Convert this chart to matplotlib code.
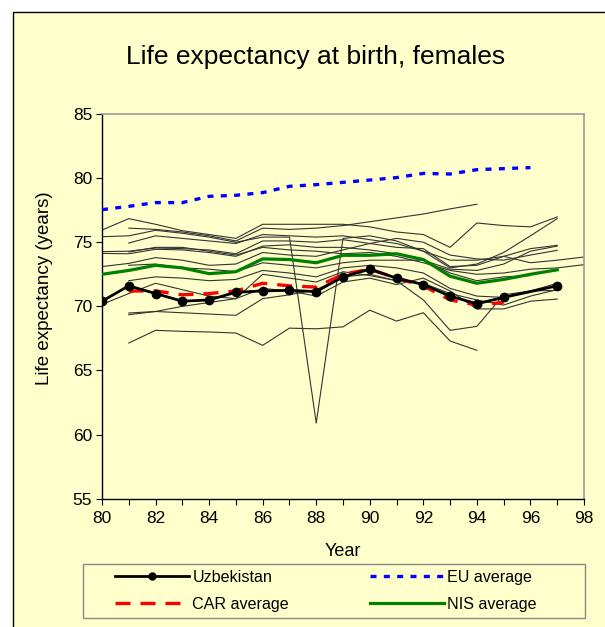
import numpy as np
import matplotlib
matplotlib.use('Agg')
import matplotlib.pyplot as plt
from matplotlib.patches import Rectangle
from matplotlib.lines import Line2D

nan = np.nan
years = list(range(80, 99))

uzbekistan = [70.4, 71.6, 71.0, 70.4, 70.5, 71.1, 71.2, 71.25, 71.15, 72.3, 72.9, 72.2, 71.7, 70.8, 70.2, 70.7, nan, 71.6, nan]
car_avg = [nan, 71.2, 71.2, 70.9, 71.0, 71.2, 71.8, 71.6, 71.5, 72.5, 72.9, 72.2, 71.6, 70.5, 70.1, 70.3, nan, nan, nan]
eu_avg = [77.54, 77.8, 78.09, 78.09, 78.58, 78.66, 78.87, 79.36, 79.49, 79.67, 79.85, 80.04, 80.37, 80.32, 80.66, 80.74, 80.82, nan, nan]
nis_avg = [72.5, 72.8, 73.2, 73.0, 72.55, 72.7, 73.7, 73.65, 73.4, 73.98, 73.98, 74.1, 73.65, 72.35, 71.8, 72.1, 72.5, 72.85, nan]

# other NIS countries (thin lines)
countries = [
    [75.95, 76.84, 76.4, 75.9, 75.6, 75.3, 76.4, 76.4, 76.4, 76.4, 76.2, 75.8, 75.6, 74.6, 76.5, 76.3, 76.2, 76.97, nan],
    [nan, 76.1, 76.0, 75.8, 75.5, 75.1, 76.1, 76.0, 76.1, 76.3, 76.6, 76.9, 77.2, 77.6, 77.96, nan, nan, nan, nan],
    [75.43, 75.5, 75.93, 75.7, 75.4, 75.0, 75.4, 75.4, 60.9, 75.3, 75.5, 75.1, 74.3, 73.0, 73.3, 74.2, 75.5, 76.84, nan],
    [74.27, 74.3, 74.55, 74.5, 74.4, 74.1, 75.1, 75.1, 75.0, 75.2, 74.9, 74.6, 74.5, 73.1, 73.2, 73.9, 74.5, 74.76, nan],
    [74.13, 74.1, 74.45, 74.4, 74.2, 73.9, 74.7, 74.8, 74.6, 74.6, 74.4, 74.1, 73.6, 72.9, 72.8, 73.3, 74.3, 74.7, nan],
    [73.1, 73.35, 73.8, 73.6, 73.2, 73.3, 74.2, 74.0, 73.9, 74.4, 74.9, 75.3, 75.0, 74.0, 73.7, 73.6, 74.0, 74.37, nan],
    [nan, 74.94, 75.5, 75.3, 75.1, 74.9, 75.6, 75.5, 75.4, 75.5, 75.2, 74.9, 74.3, 73.6, 73.6, 73.9, 73.4, 73.6, 73.85],
    [nan, 74.24, 74.6, 74.6, 74.3, 74.0, 74.6, 74.4, 74.3, 74.1, 74.2, 73.9, 73.4, 72.8, 72.5, 72.6, 72.9, 73.0, 73.25],
    [nan, 72.0, 72.3, 72.2, 72.0, 72.1, 72.8, 72.6, 72.3, 73.0, 73.2, 73.0, 72.6, 71.4, 70.8, 70.7, 71.2, 71.8, nan],
    [70.15, 71.0, 71.8, 71.3, 70.8, 70.6, 72.5, 72.2, 71.9, 72.7, 72.4, 72.0, 71.8, 71.0, 70.5, 70.1, 70.8, 71.3, nan],
    [nan, 69.48, 69.6, 70.0, 70.3, 70.6, 71.4, 71.2, 70.8, 71.9, 72.2, 71.7, 72.2, 71.2, 69.8, 69.8, 70.4, 70.57, nan],
    [nan, 69.35, 69.6, 69.5, 69.4, 69.3, 70.6, 70.9, 71.3, 72.3, 72.5, 72.0, 70.5, 68.13, 68.44, 70.9, 71.2, 71.25, nan],
    [nan, 67.14, 68.13, 68.05, 68.0, 67.92, 66.96, 68.3, 68.25, 68.4, 69.7, 68.85, 69.5, 67.3, 66.57, nan, nan, nan, nan],
    [nan, 73.2, 73.3, 73.0, 72.9, 72.7, 73.4, 73.2, 73.0, 73.4, 73.6, 73.6, 73.6, 72.6, 72.0, 72.3, 72.4, nan, nan],
]

bg = '#FFFFCC'
W, H = 605, 627
plt.rcParams['font.family'] = ['Liberation Sans', 'DejaVu Sans']
fig = plt.figure(figsize=(W / 100, H / 100), dpi=100, facecolor='white')

# yellow chart area with black border
fig.patches.append(Rectangle((13 / W, -0.01), 1.0, 1 - 12 / H + 0.01, transform=fig.transFigure,
                             facecolor=bg, edgecolor='black', lw=1, zorder=-2))

ax = fig.add_axes([102 / W, 1 - 498.7 / H, (584 - 102) / W, (498.7 - 114) / H])
ax.set_facecolor(bg)


def xy(vals):
    x = np.array(years, dtype=float)
    y = np.array(vals, dtype=float)
    m = ~np.isnan(y)
    return x[m], y[m]


for c in countries:
    ax.plot(*xy(c), color='#333333', lw=0.8, zorder=2)

ax.plot(*xy(nis_avg), color='#008000', lw=2.3, zorder=3)
ax.plot(*xy(eu_avg), color='#0000FF', lw=2.4, dashes=(1.8, 2.2), zorder=3)
ax.plot(*xy(car_avg), color='#FF0000', lw=2.4, dashes=(4.5, 3), zorder=4)
ax.plot(*xy(uzbekistan), color='black', lw=2.0, marker='o', ms=6, zorder=5)

ax.set_xlim(80, 98)
ax.set_ylim(55, 85)
ax.set_xticks(range(80, 99, 2))
ax.set_xticks(range(80, 99), minor=True)
ax.set_yticks(range(55, 86, 5))
ax.tick_params(axis='both', which='both', direction='out', length=4, width=0.8, labelsize=12.5, colors='black')
ax.tick_params(axis='x', pad=5)
ax.tick_params(axis='y', pad=3)
for s in ['left', 'bottom']:
    ax.spines[s].set_color('black')
    ax.spines[s].set_linewidth(1)
for s in ['top', 'right']:
    ax.spines[s].set_color('#999999')
    ax.spines[s].set_linewidth(1.2)

fig.text(316 / W, 1 - 57 / H, 'Life expectancy at birth, females', ha='center', va='center', fontsize=19)
fig.text(45 / W, 1 - 288 / H, 'Life expectancy (years)', ha='center', va='center', rotation=90, fontsize=13.5)
fig.text(343 / W, 1 - 552 / H, 'Year', ha='center', va='center', fontsize=13)

handles = [
    Line2D([], [], color='black', lw=2.0, marker='o', ms=5),
    Line2D([], [], color='#FF0000', lw=2.4, dashes=(4.5, 3)),
    Line2D([], [], color='#0000FF', lw=2.4, dashes=(1.8, 2.2)),
    Line2D([], [], color='#008000', lw=2.3),
]
labels = ['Uzbekistan', 'CAR average', 'EU average', 'NIS average']
fig.legend(handles, labels, ncol=2, loc='upper left', bbox_to_anchor=(115 / W, 1 - 570 / H),
           frameon=False, fontsize=11.6, handlelength=4.6, handletextpad=0.2,
           columnspacing=5.0, labelspacing=0.75, borderpad=0, borderaxespad=0)
fig.patches.append(Rectangle((83 / W, 1 - 618 / H), (585 - 83) / W, (618 - 564) / H,
                             transform=fig.transFigure, fill=False, edgecolor='#888888', lw=1, zorder=1))

fig.savefig('out.png', dpi=100, facecolor='white')
